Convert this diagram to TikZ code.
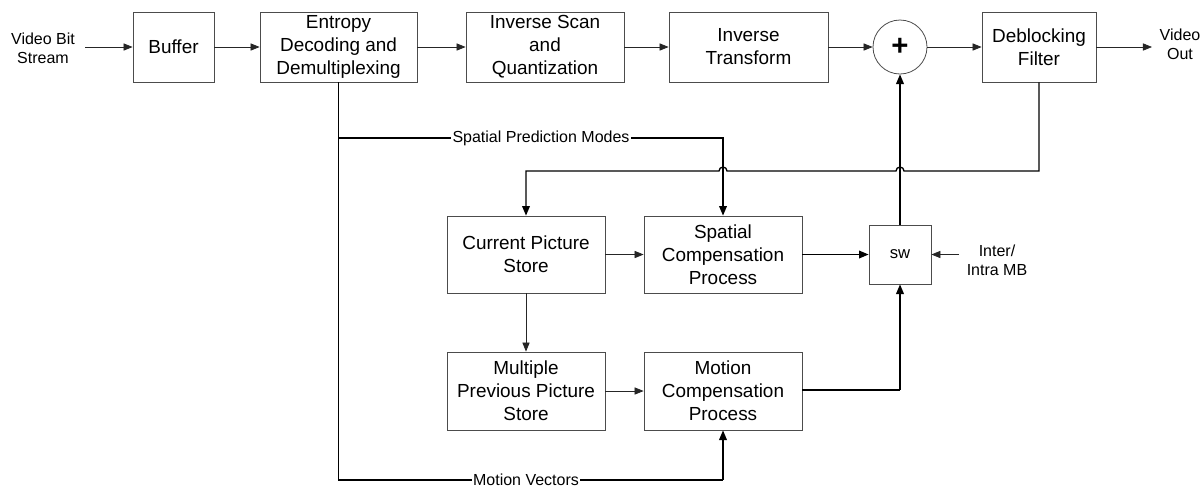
\documentclass[tikz,border=0pt]{standalone}
\usepackage{fontspec}
\setmainfont{Liberation Sans}
\usetikzlibrary{arrows.meta}
\begin{document}
\begin{tikzpicture}[x=0.75pt,y=0.75pt,
  blk/.style={draw=black!70, line width=0.6pt, align=center, inner sep=0pt,
    font=\fontsize{14.2}{17.2}\selectfont},
  lbl/.style={font=\fontsize{12}{14.3}\selectfont, align=center, inner sep=0pt},
  onl/.style={lbl, fill=white, inner xsep=1pt, inner ysep=0.5pt},
  thin/.style={draw=black!85, line width=0.6pt, -{Triangle[length=6.8pt,width=5.4pt]}},
  thick/.style={draw=black, line width=1pt, -{Triangle[length=7.2pt,width=5.8pt]}},
  thickn/.style={draw=black, line width=1pt}
]
\useasboundingbox (0,0) rectangle (1202,-487);

% top row
\node[blk, minimum width=81*0.75pt, minimum height=70*0.75pt] (buf) at (173.5,-47) {Buffer};
\node[blk, minimum width=157*0.75pt, minimum height=70*0.75pt] (ent) at (338.5,-47) {Entropy\\Decoding and\\Demultiplexing};
\node[blk, minimum width=158*0.75pt, minimum height=70*0.75pt] (isq) at (545,-47) {Inverse Scan\\and\\Quantization};
\node[blk, minimum width=159*0.75pt, minimum height=70*0.75pt] (itr) at (748.5,-47) {Inverse\\Transform};
\node[draw=black!70, line width=0.6pt, circle, minimum size=54*0.75pt, inner sep=0pt] (sum) at (900,-47) {};
\node[font=\fontsize{22}{22}\selectfont\bfseries, inner sep=0pt] (plus) at (900,-47) {+};
\node[blk, minimum width=114*0.75pt, minimum height=70*0.75pt] (dbf) at (1039,-47) {Deblocking\\Filter};

% middle / lower rows
\node[blk, minimum width=158*0.75pt, minimum height=77*0.75pt] (cur) at (526,-254.5) {Current Picture\\Store};
\node[blk, minimum width=158*0.75pt, minimum height=77*0.75pt] (spa) at (723,-254.5) {Spatial\\Compensation\\Process};
\node[blk, minimum width=62*0.75pt, minimum height=59*0.75pt, font=\fontsize{12.5}{14}\selectfont] (sw) at (900,-254.5) {sw};
\node[blk, minimum width=158*0.75pt, minimum height=78*0.75pt] (mul) at (526,-391) {Multiple\\Previous Picture\\Store};
\node[blk, minimum width=158*0.75pt, minimum height=78*0.75pt] (mot) at (723,-391) {Motion\\Compensation\\Process};

% outside texts
\node[lbl] (vin) at (43,-48) {Video Bit\\Stream};
\node[lbl] (vout) at (1180,-44) {Video\\Out};
\node[lbl] (im) at (997,-260) {Inter/\\Intra MB};

\coordinate (inpt) at (85,-47);
\coordinate (outpt) at (1152,-47);
\coordinate (impt) at (959,-254.5);
\coordinate (spb) at (338.5,-138);
\coordinate (mvb) at (338.5,-480);
\coordinate (mvx) at (723,-480);
\coordinate (fbr) at (1039,-171);
\coordinate (swm) at (900,-390);

% top row connectors
\draw[thin] (inpt) -- (buf);
\draw[thin] (buf) -- (ent);
\draw[thin] (ent) -- (isq);
\draw[thin] (isq) -- (itr);
\draw[thin] (itr) -- (sum);
\draw[thin] (sum) -- (dbf);
\draw[thin] (dbf) -- (outpt);

% demux branches
\draw[thickn] (ent.south) -- (mvb) -- (mvx);
\draw[thick] (mvx) -- (mot.south);
\draw[thick] (spb) -| (spa.north);

% feedback with hops
\draw[thick] (dbf.south) -- (fbr) -- (904,-171) arc (0:180:3pt) -- (727,-171) arc (0:180:3pt) -- (526,-171) -- (cur.north);

% inner connectors
\draw[thin] (cur) -- (spa);
\draw[thick] (spa) -- (sw);
\draw[thin] (cur) -- (mul);
\draw[thin] (mul) -- (mot);
\draw[thickn] (mot.east |- swm) -- (swm);
\draw[thick] (swm) -- (sw.south);
\draw[thick] (sw.north) -- (sum.south);
\draw[thin] (impt) -- (sw.east);

% labels on lines
\node[onl] (spm) at (541,-138) {Spatial Prediction Modes};
\node[onl] (mvl) at (526,-480) {Motion Vectors};
\end{tikzpicture}
\end{document}
